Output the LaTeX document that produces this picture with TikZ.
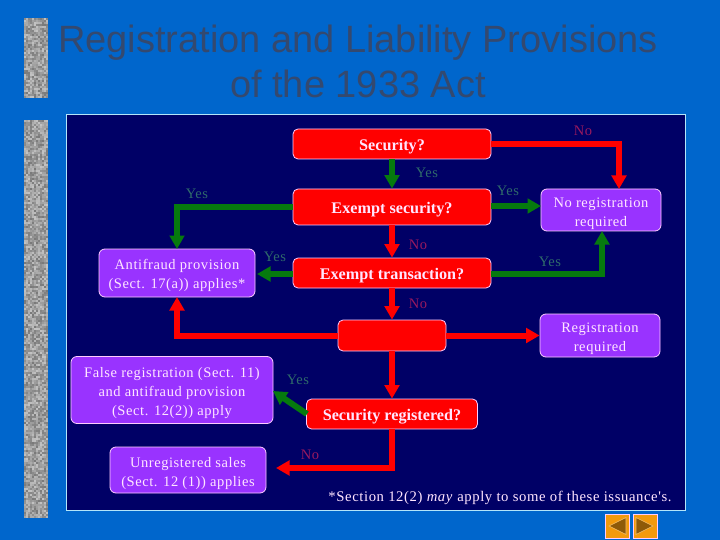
\documentclass[tikz,border=0pt]{standalone}
\usepackage{fontspec}
\setmainfont{Liberation Serif}
\newfontfamily\ttlfont{Liberation Sans}
\newfontfamily\lblfont[LetterSpace=4]{Liberation Serif}
\usetikzlibrary{arrows.meta}
\definecolor{bgblue}{HTML}{0066CC}
\definecolor{panelblue}{HTML}{000066}
\definecolor{redbox}{HTML}{FF0000}
\definecolor{purplebox}{HTML}{9933FF}
\definecolor{greenline}{HTML}{067A0E}
\definecolor{yestxt}{HTML}{2F6A6A}
\definecolor{notxt}{HTML}{99195F}
\definecolor{boxtxt}{HTML}{FFE6FF}
\definecolor{edgepink}{HTML}{FFCCFF}
\definecolor{titletxt}{HTML}{34496F}
\definecolor{orangebtn}{HTML}{F39A0C}
\definecolor{brownbtn}{HTML}{8F5A08}
\newcommand{\dn}[2]{\raisebox{-#1pt}[\dimexpr\height+#1pt\relax][\dimexpr\depth-#1pt\relax]{\begin{tabular}{@{}c@{}}#2\end{tabular}}}
\tikzset{
  qbox/.style={draw=edgepink,line width=0.8pt,fill=redbox,rounded corners=5pt,text=boxtxt,font=\fontsize{16.2}{18}\selectfont\bfseries,inner sep=0pt,align=center},
  abox/.style={draw=edgepink,line width=0.8pt,fill=purplebox,rounded corners=6pt,text=boxtxt,font=\lblfont\fontsize{14.5}{19}\selectfont,inner sep=0pt},
  redarrow/.style={draw=redbox,line width=6pt,-{Triangle[width=14.5pt,length=13.5pt]}},
  greenarrow/.style={draw=greenline,line width=6pt,-{Triangle[width=14.5pt,length=13.5pt]}},
  yeslabel/.style={text=yestxt,font=\lblfont\fontsize{14.5}{16}\selectfont,inner sep=0pt},
  nolabel/.style={text=notxt,font=\lblfont\fontsize{14.5}{16}\selectfont,inner sep=0pt},
  btn/.style={draw=edgepink,line width=0.8pt,fill=orangebtn,minimum width=24pt,minimum height=24pt,inner sep=0pt},
  brownmark/.style={fill=brownbtn,draw=orangebtn!60!white,line width=0.6pt}
}
\newcommand{\granitebar}[4]{% x0,y0,cols,rows
  \fill[black!38] (#1,#2) rectangle ++(#3*2,#4*2);
  \foreach \ii in {1,...,#3}{\foreach \jj in {1,...,#4}{
    \pgfmathsetmacro{\gv}{int(24+random(0,28))}
    \fill[black!\gv] ({#1+(\ii-1)*2},{#2+(\jj-1)*2}) rectangle ++(2,2);
  }}
}
\begin{document}
\begin{tikzpicture}[x=1pt,y=-1pt]
\pgfmathsetseed{1933}
\useasboundingbox (0,0) rectangle (720,540);
\fill[bgblue] (0,0) rectangle (720,540);
\granitebar{24}{18}{12}{40}
\granitebar{24}{120}{12}{199}
\fill[panelblue] (66.5,114.5) rectangle (685,510);
\draw[draw=cyan!30!white,line width=0.8pt] (66.5,114.5) rectangle (685,510);

\node[text=titletxt,font=\ttlfont\fontsize{38}{45}\selectfont,align=center,inner sep=0pt] (title) at (358,61) {Registration and Liability Provisions\\of the 1933 Act};

\node[qbox,minimum width=198pt,minimum height=30pt] (sec) at (392,144) {\dn{1.5}{Security?}};
\node[qbox,minimum width=198pt,minimum height=36pt] (exs) at (392,207) {\dn{1.5}{Exempt security?}};
\node[qbox,minimum width=198pt,minimum height=30pt] (ext) at (392,273) {\dn{1.5}{Exempt transaction?}};
\node[qbox,minimum width=108pt,minimum height=31pt] (blank) at (392,335.5) {};
\node[qbox,minimum width=171pt,minimum height=30pt] (reg) at (392,414) {\dn{1.5}{Security registered?}};

\node[abox,minimum width=156pt,minimum height=48pt] (anti) at (177,273) {\dn{1}{Antifraud provision\\(Sect. 17(a)) applies*}};
\node[abox,minimum width=202pt,minimum height=67pt] (false) at (172,390) {\dn{1.5}{False registration (Sect. 11)\\and antifraud provision\\(Sect. 12(2)) apply}};
\node[abox,minimum width=156pt,minimum height=46pt] (unreg) at (188,470) {\dn{1.5}{Unregistered sales\\(Sect. 12 (1)) applies}};
\node[abox,minimum width=120pt,minimum height=42pt] (nrr) at (601,210) {\dn{1.5}{No registration\\required}};
\node[abox,minimum width=120pt,minimum height=43pt] (rr) at (600,335.5) {\dn{1.5}{Registration\\required}};

\coordinate (antitop) at (177,249);
\coordinate (antibot) at (177,297);
\coordinate (nrrtop) at (619,189);
\coordinate (nrrbot) at (602,231);
\coordinate (sectip) at (619,144);
\coordinate (exsbend) at (177,207);
\coordinate (extr) at (491,274);
\coordinate (extbend) at (602,274);
\coordinate (regbend) at (392,468);
\coordinate (unregtip) at (276,468);
\coordinate (exsr) at (491,206);
\coordinate (nrrl) at (541,206);
\coordinate (extl) at (293,274);
\coordinate (antir) at (257,274);
\coordinate (regl) at (307,414);
\coordinate (falser) at (273,391);
\coordinate (blankbend) at (177,335.5);

\draw[redarrow] (sec.east) -- (sectip) -- (nrrtop);
\draw[greenarrow] (sec.south) -- (exs.north);
\draw[greenarrow] (exs.west) -- (exsbend) -- (antitop);
\draw[greenarrow] (exsr) -- (nrrl);
\draw[redarrow] (exs.south) -- (ext.north);
\draw[greenarrow] (extl) -- (antir);
\draw[greenarrow] (extr) -- (extbend) -- (nrrbot);
\draw[redarrow] (ext.south) -- (blank.north);
\draw[redarrow] (blank.west) -- (blankbend) -- (antibot);
\draw[redarrow] (blank.east) -- (rr.west);
\draw[redarrow] (blank.south) -- (reg.north);
\draw[greenarrow] (regl) -- (falser);
\draw[redarrow] (reg.south) -- (regbend) -- (unregtip);

\node[nolabel] (l1) at (583,131) {No};
\node[yeslabel] (l2) at (427,173) {Yes};
\node[yeslabel] (l3) at (197,194) {Yes};
\node[yeslabel] (l4) at (508,191) {Yes};
\node[nolabel] (l5) at (418,245) {No};
\node[yeslabel] (l6) at (275,257) {Yes};
\node[yeslabel] (l7) at (550,262) {Yes};
\node[nolabel] (l8) at (418,304) {No};
\node[yeslabel] (l9) at (298,380) {Yes};
\node[nolabel] (l10) at (310,455) {No};

\node[text=boxtxt,font=\lblfont\fontsize{14.7}{16}\selectfont,inner sep=0pt] (note) at (500,498) {*Section 12(2) \emph{may} apply to some of these issuance's.};

\node[btn] (prev) at (617,526) {};
\node[btn] (next) at (645,526) {};
\fill[brownmark] (609,526) -- (626,517.5) -- (626,534.5) -- cycle;
\fill[brownmark] (653,526) -- (636,517.5) -- (636,534.5) -- cycle;
\end{tikzpicture}
\end{document}
